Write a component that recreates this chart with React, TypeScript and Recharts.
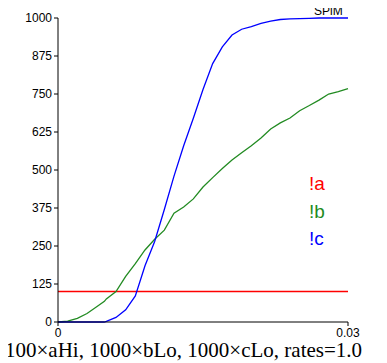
import { LineChart, Line, XAxis, YAxis } from 'recharts';

// simulation time points (s)
const times = [
  0, 0.001, 0.002, 0.003, 0.004, 0.0048, 0.005, 0.006, 0.007, 0.008, 0.009, 0.01,
  0.011, 0.012, 0.013, 0.014, 0.015, 0.016, 0.017, 0.018, 0.019, 0.02,
  0.021, 0.022, 0.023, 0.024, 0.025, 0.026, 0.027, 0.028, 0.029, 0.03,
];

// !a stays flat at its initial count
const aCounts = [
  100, 100, 100, 100, 100, 100, 100, 100, 100, 100, 100, 100,
  100, 100, 100, 100, 100, 100, 100, 100, 100, 100,
  100, 100, 100, 100, 100, 100, 100, 100, 100, 100,
];

const bCounts = [
  0, 3, 12, 28, 50, 68, 76, 100, 150, 192, 237, 272,
  302, 358, 378, 405, 444, 475, 505, 533, 557, 580,
  605, 635, 655, 671, 695, 712, 730, 750, 758, 768,
];

const cCounts = [
  0, 0, 0, 0, 0, 0, 2, 15, 40, 86, 185, 265,
  370, 480, 580, 670, 765, 850, 905, 944, 963, 972,
  982, 990, 995, 997, 998, 999, 1000, 1000, 1000, 1000,
];

const yTicks = [0, 125, 250, 375, 500, 625, 750, 875, 1000];
const xTicks = [0, 0.03];

const data = times.map((t, i) => ({ t, a: aCounts[i], b: bCounts[i], c: cCounts[i] }));

const tickFont = { fontSize: 12, fill: '#000', fontFamily: '"Liberation Sans", Arial, sans-serif' };

export default function App() {
  return (
    <div style={{ position: 'relative', width: 379, height: 355 }}>
      <LineChart width={379} height={340} data={data} margin={{ top: 10, right: 39, bottom: 6, left: 0 }}>
        <XAxis
          dataKey="t"
          type="number"
          domain={[0, 0.03]}
          ticks={xTicks}
          tickFormatter={(v: number) => (v === 0 ? '0' : String(v))}
          tick={tickFont}
          tickSize={4}
          height={20}
          stroke="#000"
          interval={0}
        />
        <YAxis
          type="number"
          domain={[0, 1000]}
          ticks={yTicks}
          tick={tickFont}
          tickSize={4}
          width={50}
          stroke="#000"
          interval={0}
        />
        <Line type="linear" dataKey="a" stroke="#ff0000" strokeWidth={1.5} dot={false} isAnimationActive={false} />
        <Line type="linear" dataKey="b" stroke="#228b22" strokeWidth={1.3} dot={false} isAnimationActive={false} />
        <Line type="linear" dataKey="c" stroke="#0000ff" strokeWidth={1.3} dot={false} isAnimationActive={false} />
      </LineChart>
      <div style={{ position: 'absolute', left: 306, top: -4, fontSize: 12, lineHeight: '14px', fontFamily: '"Liberation Sans", Arial, sans-serif', color: '#000' }}>
        SPiM
      </div>
      <div style={{ position: 'absolute', left: 301, top: 162, fontSize: 19, lineHeight: '27.5px', fontFamily: '"Liberation Sans", Arial, sans-serif' }}>
        <div style={{ color: '#ff0000' }}>!a</div>
        <div style={{ color: '#228b22' }}>!b</div>
        <div style={{ color: '#0000ff' }}>!c</div>
      </div>
      <div style={{ position: 'absolute', left: -3, top: 330, fontSize: 21, lineHeight: '24px', fontFamily: 'serif', color: '#000', whiteSpace: 'nowrap' }}>
        100×aHi, 1000×bLo, 1000×cLo, rates=1.0
      </div>
    </div>
  );
}
